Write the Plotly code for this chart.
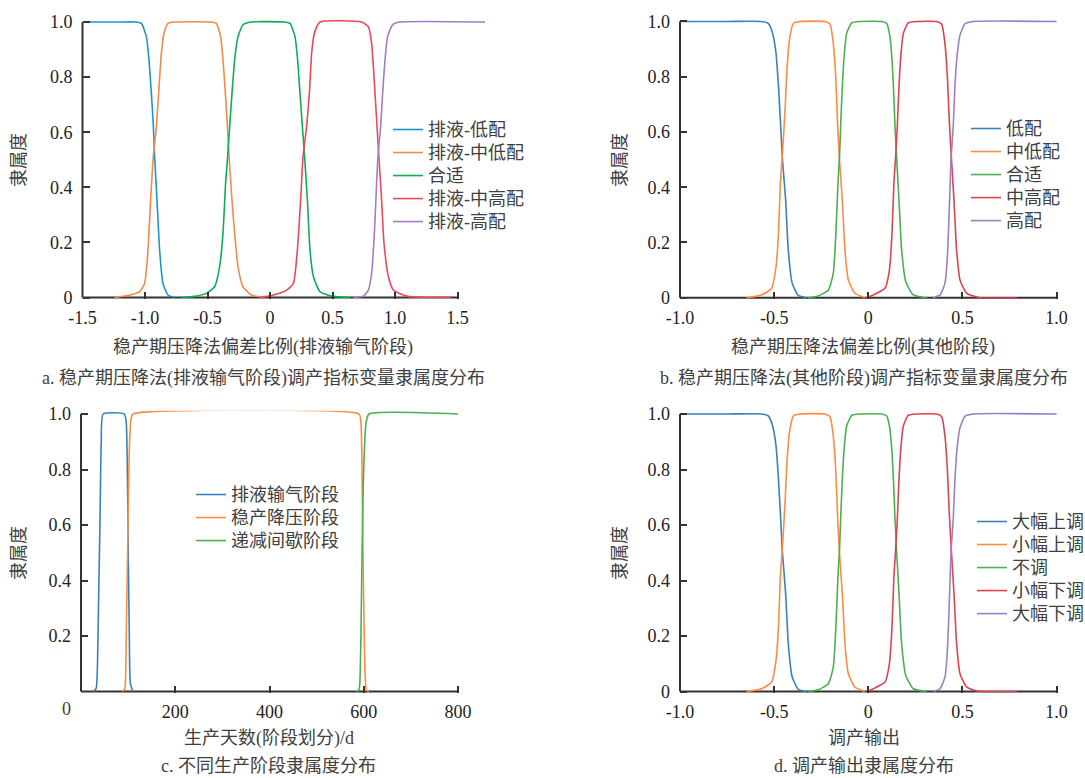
import plotly.graph_objects as go

# ---------------- Panel a: 稳产期压降法(排液输气阶段) ----------------
a_names = ["排液-低配", "排液-中低配", "合适", "排液-中高配", "排液-高配"]
a_x_low = [-1.5, -1.2, -1.082, -1.029, -0.989, -0.968, -0.949, -0.933, -0.923, -0.904, -0.883, -0.856, -0.816, -0.762]
a_y_low = [1, 1, 1, 0.995, 0.947, 0.862, 0.741, 0.62, 0.51, 0.354, 0.172, 0.051, 0.009, 0]
a_x_midlow = [-1.243, -1.136, -1.043, -1.003, -0.976, -0.955, -0.934, -0.909, -0.891, -0.869, -0.848, -0.816, -0.762,
              -0.469, -0.429, -0.395, -0.376, -0.357, -0.341, -0.327, -0.304, -0.283, -0.256, -0.216, -0.149, -0.042]
a_y_midlow = [0, 0.007, 0.021, 0.051, 0.172, 0.354, 0.51, 0.62, 0.741, 0.886, 0.959, 0.995, 1,
              1, 0.995, 0.947, 0.862, 0.741, 0.62, 0.51, 0.354, 0.233, 0.112, 0.039, 0.009, 0]
a_x_fit = [-0.709, -0.603, -0.509, -0.443, -0.403, -0.376, -0.355, -0.339, -0.323, -0.304, -0.283, -0.256, -0.216, -0.149,
           0.107, 0.16, 0.2, 0.221, 0.24, 0.259, 0.277, 0.299, 0.32, 0.347, 0.4, 0.493, 0.64]
a_y_fit = [0, 0.004, 0.015, 0.039, 0.112, 0.233, 0.415, 0.51, 0.62, 0.741, 0.862, 0.947, 0.99, 1,
           1, 0.995, 0.947, 0.862, 0.741, 0.62, 0.51, 0.354, 0.172, 0.076, 0.021, 0.005, 0]
a_x_midhigh = [-0.08, 0.027, 0.133, 0.187, 0.219, 0.245, 0.264, 0.293, 0.315, 0.333, 0.355, 0.4,
               0.733, 0.787, 0.813, 0.832, 0.853, 0.871, 0.893, 0.912, 0.947, 0.987, 1.093, 1.253, 1.45]
a_y_midhigh = [0, 0.009, 0.027, 0.051, 0.172, 0.354, 0.51, 0.62, 0.741, 0.886, 0.959, 1,
               1, 0.983, 0.923, 0.802, 0.644, 0.51, 0.354, 0.197, 0.076, 0.027, 0.005, 0, 0]
a_x_high = [0.667, 0.747, 0.787, 0.813, 0.835, 0.853, 0.863, 0.885, 0.901, 0.92, 0.941, 0.981, 1.04, 1.72]
a_y_high = [0, 0.005, 0.027, 0.088, 0.233, 0.415, 0.51, 0.62, 0.741, 0.862, 0.947, 0.99, 1, 1]

# ---------------- Panel b: 稳产期压降法(其他阶段) ----------------
b_names = ["低配", "中低配", "合适", "中高配", "高配"]
b_x_low = [-1.0, -0.75, -0.566, -0.531, -0.508, -0.49, -0.477, -0.467, -0.457, -0.439, -0.425, -0.404, -0.372, -0.327]
b_y_low = [1, 1, 1, 0.993, 0.957, 0.885, 0.764, 0.643, 0.51, 0.354, 0.173, 0.052, 0.008, 0]
b_x_midlow = [-0.646, -0.566, -0.513, -0.49, -0.477, -0.467, -0.457, -0.442, -0.432, -0.419, -0.398, -0.363,
              -0.23, -0.203, -0.186, -0.173, -0.164, -0.154, -0.138, -0.124, -0.106, -0.071, -0.018]
b_y_midlow = [0, 0.01, 0.034, 0.112, 0.233, 0.415, 0.51, 0.68, 0.824, 0.933, 0.993, 1,
              1, 0.99, 0.921, 0.8, 0.643, 0.51, 0.354, 0.173, 0.064, 0.016, 0]
b_x_fit = [-0.319, -0.266, -0.212, -0.186, -0.172, -0.161, -0.153, -0.147, -0.138, -0.127, -0.115, -0.088, -0.044,
           0.071, 0.098, 0.115, 0.126, 0.135, 0.142, 0.15, 0.163, 0.177, 0.199, 0.239, 0.31]
b_y_fit = [0, 0.006, 0.028, 0.088, 0.233, 0.415, 0.51, 0.619, 0.764, 0.885, 0.957, 0.995, 1,
           1, 0.993, 0.945, 0.861, 0.74, 0.619, 0.51, 0.354, 0.173, 0.058, 0.01, 0]
b_x_midhigh = [-0.01, 0.027, 0.089, 0.112, 0.126, 0.136, 0.145, 0.154, 0.163, 0.174, 0.186, 0.212, 0.257,
               0.363, 0.39, 0.407, 0.42, 0.43, 0.441, 0.455, 0.469, 0.487, 0.523, 0.593, 0.79]
b_y_midhigh = [0, 0.01, 0.034, 0.1, 0.233, 0.415, 0.51, 0.619, 0.764, 0.885, 0.957, 0.995, 1,
               1, 0.99, 0.921, 0.8, 0.643, 0.51, 0.354, 0.173, 0.064, 0.016, 0, 0]
b_x_high = [0.345, 0.381, 0.407, 0.42, 0.43, 0.44, 0.451, 0.46, 0.473, 0.487, 0.514, 0.558, 1.0]
b_y_high = [0, 0.01, 0.052, 0.148, 0.318, 0.51, 0.619, 0.764, 0.885, 0.951, 0.992, 1, 1]

# ---------------- Panel c: 不同生产阶段 ----------------
c_names = ["排液输气阶段", "稳产降压阶段", "递减间歇阶段"]
c_x_drain = [25, 32, 35, 38, 40, 43, 47, 92, 96, 98, 100.3, 102.5, 104.7, 110]
c_y_drain = [0, 0.01, 0.1, 0.4, 0.58, 0.9, 1, 1, 0.97, 0.85, 0.5, 0.2, 0.03, 0]
c_x_stable = [88, 93, 96, 98.8, 101, 103.2, 106, 110, 590, 594, 596, 598.5, 601, 603.7, 606, 611]
c_y_stable = [0, 0.01, 0.2, 0.49, 0.75, 0.906, 0.98, 1, 1, 0.97, 0.85, 0.49, 0.2, 0.03, 0.005, 0]
c_x_decline = [584, 589, 591.3, 594, 596.3, 599, 602.2, 605, 611, 800]
c_y_decline = [0, 0.005, 0.02, 0.2, 0.49, 0.75, 0.906, 0.97, 1, 1]

# ---------------- Panel d: 调产输出 (same membership functions as panel b) ----------------
d_names = ["大幅上调", "小幅上调", "不调", "小幅下调", "大幅下调"]
d_x_sets = [b_x_low, b_x_midlow, b_x_fit, b_x_midhigh, b_x_high]
d_y_sets = [b_y_low, b_y_midlow, b_y_fit, b_y_midhigh, b_y_high]

# tick labels
ab_ytick_vals = [0, 0.2, 0.4, 0.6, 0.8, 1.0]
ab_ytick_text = ["0", "0.2", "0.4", "0.6", "0.8", "1.0"]
c_ytick_vals = [0.2, 0.4, 0.6, 0.8, 1.0]
c_ytick_text = ["0.2", "0.4", "0.6", "0.8", "1.0"]
a_xtick_vals = [-1.5, -1.0, -0.5, 0, 0.5, 1.0, 1.5]
a_xtick_text = ["-1.5", "-1.0", "-0.5", "0", "0.5", "1.0", "1.5"]
bd_xtick_vals = [-1.0, -0.5, 0, 0.5, 1.0]
bd_xtick_text = ["-1.0", "-0.5", "0", "0.5", "1.0"]
c_xtick_vals = [200, 400, 600, 800]
c_xtick_text = ["200", "400", "600", "800"]

# ---------------- styling ----------------
W, H = 1085, 778
FONT = "Liberation Serif, Noto Sans CJK SC, serif"
AX = "#333333"
TXT = "#404040"
cols_a = ["#1a96c8", "#f5894a", "#0aae55", "#f04657", "#a47cc4"]
cols_b = ["#3a80bd", "#ff8b40", "#4caf50", "#e0424d", "#9b7fc6"]

# panel geometry (pixel positions of data ranges)
panels = {
    "a": dict(xr=[-1.5, 1.72], yr=[-0.004, 1.012], xdom=[82.5, 485.0], y0px=297.5, y1px=22.0),
    "b": dict(xr=[-1.0, 1.008], yr=[-0.004, 1.012], xdom=[680.0, 1058.1], y0px=297.7, y1px=21.5),
    "c": dict(xr=[0, 804], yr=[-0.004, 1.012], xdom=[81.0, 459.9], y0px=691.5, y1px=414.0),
    "d": dict(xr=[-1.0, 1.008], yr=[-0.004, 1.012], xdom=[680.0, 1058.1], y0px=691.5, y1px=414.0),
}


def ydom(p):
    unit = (p["y0px"] - p["y1px"])
    lo = p["y0px"] - p["yr"][0] * unit
    hi = p["y0px"] - p["yr"][1] * unit
    return [1 - lo / H, 1 - hi / H]


def xpaper(p, v):
    d0, d1 = p["xdom"][0] / W, p["xdom"][1] / W
    return d0 + (v - p["xr"][0]) / (p["xr"][1] - p["xr"][0]) * (d1 - d0)


def ypaper(p, v):
    dd = ydom(p)
    return dd[0] + (v - p["yr"][0]) / (p["yr"][1] - p["yr"][0]) * (dd[1] - dd[0])


fig = go.Figure()


def add_lines(xs, ys, names, cols, xa, ya, leg):
    for x, y, n, c in zip(xs, ys, names, cols):
        fig.add_trace(go.Scatter(x=x, y=y, mode="lines",
                                 name="<span style='font-size:18px'>" + n + "</span>",
                                 line=dict(color=c, width=1.6, shape="spline", smoothing=0.5),
                                 xaxis=xa, yaxis=ya, legend=leg, hoverinfo="skip"))


add_lines([a_x_low, a_x_midlow, a_x_fit, a_x_midhigh, a_x_high],
          [a_y_low, a_y_midlow, a_y_fit, a_y_midhigh, a_y_high], a_names, cols_a, "x", "y", "legend")
add_lines([b_x_low, b_x_midlow, b_x_fit, b_x_midhigh, b_x_high],
          [b_y_low, b_y_midlow, b_y_fit, b_y_midhigh, b_y_high], b_names, cols_b, "x2", "y2", "legend2")
add_lines([c_x_drain, c_x_stable, c_x_decline], [c_y_drain, c_y_stable, c_y_decline],
          c_names, cols_b[:3], "x3", "y3", "legend3")
add_lines(d_x_sets, d_y_sets, d_names, cols_b, "x4", "y4", "legend4")


def xaxis(p, vals, text, anchor):
    return dict(domain=[p["xdom"][0] / W, p["xdom"][1] / W], range=p["xr"], tickvals=vals, ticktext=text,
                ticks="inside", ticklen=7, tickwidth=1.6, tickcolor=AX, showline=False, showgrid=False,
                zeroline=False, anchor=anchor, ticklabelstandoff=6, automargin=False,
                tickfont=dict(family=FONT, size=18, color="#222222"))


def yaxis(p, vals, text, anchor):
    return dict(domain=ydom(p), range=p["yr"], tickvals=vals, ticktext=text,
                ticks="inside", ticklen=7, tickwidth=1.6, tickcolor=AX, showline=False, showgrid=False,
                zeroline=False, anchor=anchor, ticklabelstandoff=9, automargin=False,
                tickfont=dict(family=FONT, size=18, color="#222222"))


shapes = []
for key, xend in [("a", 1.5), ("b", 1.0), ("c", 800), ("d", 1.0)]:
    p = panels[key]
    x0 = xpaper(p, p["xr"][0])
    shapes.append(dict(type="line", xref="paper", yref="paper", x0=x0, x1=xpaper(p, xend),
                       y0=ypaper(p, 0), y1=ypaper(p, 0), line=dict(color=AX, width=2), layer="below"))
    shapes.append(dict(type="line", xref="paper", yref="paper", x0=x0, x1=x0,
                       y0=ypaper(p, 0), y1=ypaper(p, 1.0), line=dict(color=AX, width=2), layer="below"))


def ann(text, xpx, ypx, angle=0, size=18):
    return dict(text=text, x=xpx / W, y=1 - ypx / H, xref="paper", yref="paper", showarrow=False,
                xanchor="center", yanchor="middle", textangle=angle,
                font=dict(family=FONT, size=size, color=TXT))


annotations = [
    ann("稳产期压降法偏差比例(排液输气阶段)", 263, 347),
    ann("a. 稳产期压降法(排液输气阶段)调产指标变量隶属度分布", 263, 378),
    ann("隶属度", 19, 160, -90),
    ann("稳产期压降法偏差比例(其他阶段)", 863, 347),
    ann("b. 稳产期压降法(其他阶段)调产指标变量隶属度分布", 864, 378),
    ann("隶属度", 620, 160, -90),
    ann("生产天数(阶段划分)/d", 269, 738),
    ann("c. 不同生产阶段隶属度分布", 268, 766),
    ann("隶属度", 19, 553, -90),
    ann("调产输出", 864, 738),
    ann("d. 调产输出隶属度分布", 864, 766),
    ann("隶属度", 620, 553, -90),
    ann("0", 66, 709),
]


def legend(xpx, ypx):
    return dict(x=xpx / W, y=1 - ypx / H, xanchor="left", yanchor="top", bgcolor="rgba(0,0,0,0)",
                borderwidth=0, tracegroupgap=0, itemwidth=30,
                font=dict(family=FONT, size=15.4, color=TXT))


fig.update_layout(
    width=W, height=H, margin=dict(l=0, r=0, t=0, b=0, autoexpand=False),
    paper_bgcolor="white", plot_bgcolor="white", showlegend=True,
    xaxis=xaxis(panels["a"], a_xtick_vals, a_xtick_text, "y"),
    yaxis=yaxis(panels["a"], ab_ytick_vals, ab_ytick_text, "x"),
    xaxis2=xaxis(panels["b"], bd_xtick_vals, bd_xtick_text, "y2"),
    yaxis2=yaxis(panels["b"], ab_ytick_vals, ab_ytick_text, "x2"),
    xaxis3=xaxis(panels["c"], c_xtick_vals, c_xtick_text, "y3"),
    yaxis3=yaxis(panels["c"], c_ytick_vals, c_ytick_text, "x3"),
    xaxis4=xaxis(panels["d"], bd_xtick_vals, bd_xtick_text, "y4"),
    yaxis4=yaxis(panels["d"], ab_ytick_vals, ab_ytick_text, "x4"),
    legend=legend(388, 113),
    legend2=legend(966, 112),
    legend3=legend(191, 478),
    legend4=legend(972, 505),
    shapes=shapes,
    annotations=annotations,
)

fig.write_html("out.html")
